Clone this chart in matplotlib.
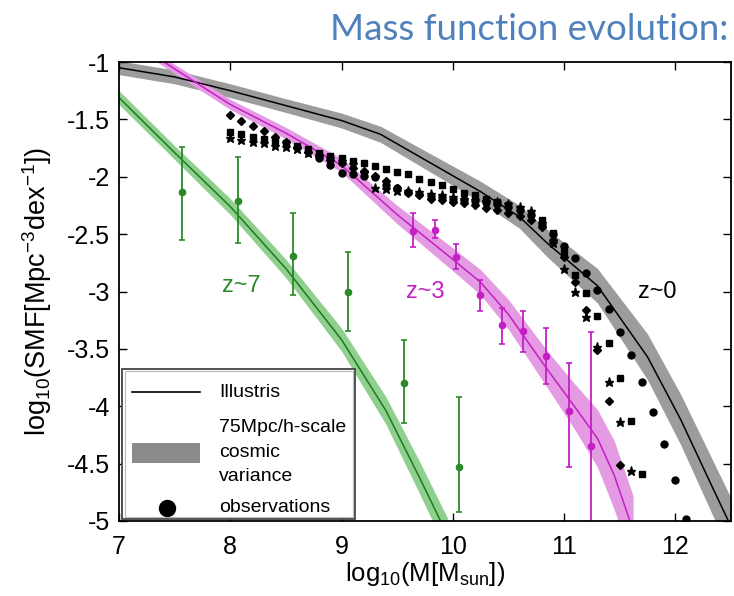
import matplotlib
matplotlib.use('Agg')
from matplotlib import pyplot as plt
from matplotlib.lines import Line2D
from matplotlib.patches import Rectangle
import numpy as np

plt.rcParams['font.family'] = ['Liberation Sans', 'DejaVu Sans']
plt.rcParams['mathtext.default'] = 'regular'
plt.rcParams['axes.unicode_minus'] = False

# Illustris stellar mass functions (log10 M, log10 SMF) and cosmic variance half-widths
z0_x = [7.0, 7.5, 8.0, 8.5, 9.0, 9.35, 9.8, 10.25, 10.6, 10.85, 11.3, 11.75, 12.05, 12.33, 12.55]
z0_y = [-1.05, -1.13, -1.25, -1.38, -1.51, -1.63, -1.88, -2.13, -2.35, -2.58, -2.95, -3.57, -4.12, -4.70, -5.15]
z0_w = [0.06, 0.06, 0.06, 0.06, 0.065, 0.07, 0.08, 0.09, 0.1, 0.12, 0.15, 0.2, 0.22, 0.24, 0.25]

z3_x = [7.2, 7.5, 8.0, 8.5, 9.0, 9.5, 10.0, 10.25, 10.5, 10.85, 11.1, 11.3, 11.45, 11.62]
z3_y = [-0.87, -1.06, -1.37, -1.62, -1.90, -2.33, -2.72, -2.92, -3.20, -3.68, -4.01, -4.28, -4.60, -5.08]
z3_w = [0.04, 0.04, 0.045, 0.05, 0.06, 0.08, 0.1, 0.11, 0.13, 0.16, 0.2, 0.25, 0.3, 0.3]

z7_x = [7.0, 7.5, 8.0, 8.5, 9.0, 9.4, 9.7, 9.95]
z7_y = [-1.31, -1.79, -2.26, -2.80, -3.42, -4.04, -4.62, -5.12]
z7_w = [0.06, 0.06, 0.07, 0.08, 0.1, 0.12, 0.14, 0.15]

# observations at z~7 and z~3 with asymmetric errors
obs7_x = [7.57, 8.07, 8.56, 9.06, 9.56, 10.06]
obs7_y = [-2.13, -2.21, -2.69, -3.00, -3.80, -4.53]
obs7_lo = [-2.55, -2.58, -3.03, -3.34, -4.15, -4.92]
obs7_hi = [-1.74, -1.83, -2.32, -2.66, -3.42, -3.92]

obs3_x = [9.64, 9.84, 10.03, 10.24, 10.44, 10.63, 10.84, 11.04, 11.24]
obs3_y = [-2.47, -2.46, -2.70, -3.03, -3.29, -3.34, -3.56, -4.04, -4.35]
obs3_lo = [-2.61, -2.53, -2.80, -3.17, -3.46, -3.53, -3.81, -4.53, -5.40]
obs3_hi = [-2.32, -2.38, -2.59, -2.90, -3.14, -3.17, -3.32, -3.62, -3.35]

# z~0 observations, four surveys
diam_x = np.round(np.arange(8.0, 11.51, 0.1), 2)
diam_y = [-1.46, -1.51, -1.56, -1.60, -1.65, -1.70, -1.74, -1.78, -1.82, -1.85,
          -1.88, -1.92, -1.95, -1.99, -2.04, -2.10, -2.14, -2.16, -2.19, -2.20,
          -2.22, -2.23, -2.25, -2.27, -2.29, -2.32, -2.34, -2.38, -2.44, -2.55,
          -2.70, -2.92, -3.16, -3.51, -3.95, -4.51]
sq_x = np.round(np.arange(8.0, 11.71, 0.1), 2)
sq_y = [-1.61, -1.63, -1.65, -1.67, -1.69, -1.71, -1.73, -1.76, -1.79, -1.82,
        -1.84, -1.86, -1.88, -1.91, -1.93, -1.96, -1.98, -2.02, -2.05, -2.07,
        -2.11, -2.14, -2.16, -2.19, -2.22, -2.25, -2.28, -2.32, -2.38, -2.49,
        -2.66, -2.86, -3.01, -3.21, -3.45, -3.75, -4.13, -4.59]
star_x = np.round(np.arange(8.0, 11.61, 0.1), 2)
star_y = [-1.66, -1.68, -1.70, -1.71, -1.73, -1.74, -1.76, -1.79, -1.81, -1.84,
          -1.86, -1.89, -1.97, -2.10, -2.11, -2.12, -2.12, -2.13, -2.15, -2.16,
          -2.18, -2.19, -2.20, -2.21, -2.22, -2.24, -2.26, -2.30, -2.40, -2.58,
          -2.80, -3.00, -3.22, -3.48, -3.79, -4.14, -4.56]
circ_x = np.round(np.arange(8.8, 12.11, 0.1), 2)
circ_y = [-1.84, -1.90, -1.97, -1.98, -1.99, -2.00, -2.07, -2.10, -2.13, -2.15,
          -2.17, -2.18, -2.19, -2.20, -2.21, -2.22, -2.24, -2.26, -2.29, -2.33,
          -2.42, -2.50, -2.60, -2.71, -2.84, -2.99, -3.15, -3.35, -3.55, -3.79,
          -4.05, -4.33, -4.64, -4.98]

legend_labels = ['Illustris', '75Mpc/h-scale\ncosmic\nvariance', 'observations']

green = '#2a8a2a'
green_band = '#8fd08f'
magenta = '#c41fc4'
magenta_band = '#e49be4'
gray_band = '#9c9c9c'

fig = plt.figure(figsize=(7.34, 5.96), dpi=100)
ax = fig.add_axes([119 / 734, 1 - 521 / 596, 612 / 734, 459 / 596])


def draw_sim(x, y, w, line_color, band_color):
    x = np.array(x)
    y = np.array(y)
    w = np.array(w)
    ax.fill_between(x, y - w, y + w, color=band_color, lw=0, zorder=1)
    ax.plot(x, y, color=line_color, lw=1.1, zorder=2)


draw_sim(z0_x, z0_y, z0_w, 'black', gray_band)
draw_sim(z3_x, z3_y, z3_w, magenta, magenta_band)
draw_sim(z7_x, z7_y, z7_w, '#1f7a1f', green_band)

ax.plot(diam_x, diam_y, 'D', color='black', ms=4, ls='none', zorder=3)
ax.plot(sq_x, sq_y, 's', color='black', ms=4, ls='none', zorder=3)
ax.plot(star_x, star_y, '*', color='black', ms=6.5, ls='none', zorder=3)
ax.plot(circ_x, circ_y, 'o', color='black', ms=5, ls='none', zorder=3)

for xs, ys, lo, hi, c in [(obs7_x, obs7_y, obs7_lo, obs7_hi, green),
                          (obs3_x, obs3_y, obs3_lo, obs3_hi, magenta)]:
    ys = np.array(ys)
    yerr = [ys - np.array(lo), np.array(hi) - ys]
    ax.errorbar(xs, ys, yerr=yerr, fmt='o', color=c, ms=4.5, lw=1.3,
                capsize=2.5, capthick=1.2, zorder=4)

ax.text(8.1, -2.95, 'z~7', color=green, fontsize=17, ha='center', va='center')
ax.text(9.75, -3.0, 'z~3', color=magenta, fontsize=17, ha='center', va='center')
ax.text(11.84, -3.0, 'z~0', color='black', fontsize=17, ha='center', va='center')

ax.set_xlim(7, 12.5)
ax.set_ylim(-5, -1)
ax.set_xticks([7, 8, 9, 10, 11, 12])
ax.set_yticks([-1, -1.5, -2, -2.5, -3, -3.5, -4, -4.5, -5])
ax.set_yticklabels(['-1', '-1.5', '-2', '-2.5', '-3', '-3.5', '-4', '-4.5', '-5'])
ax.tick_params(direction='in', top=True, right=True, length=6, width=1,
               labelsize=18)
ax.tick_params(axis='x', pad=10)
ax.tick_params(axis='y', pad=6.5)
for s in ax.spines.values():
    s.set_linewidth(1.3)
    s.set_zorder(6)

ax.set_xlabel('log$_{10}$(M[M$_{sun}$])', fontsize=18.5, labelpad=1)
ax.set_ylabel('log$_{10}$(SMF[Mpc$^{-3}$dex$^{-1}$])', fontsize=19.5, labelpad=9)

# legend box in the lower left corner, laid out in axes fractions
tr = ax.transAxes
ax.add_patch(Rectangle((0.005, 0.004), 0.381, 0.327, transform=tr,
                       facecolor='white', edgecolor='#444444', lw=1.3, zorder=5))
ax.add_patch(Rectangle((0.009, 0.009), 0.373, 0.318, transform=tr,
                       facecolor='none', edgecolor='#bbbbbb', lw=0.8, zorder=5))
ax.add_line(Line2D([0.021, 0.132], [0.281, 0.281], transform=tr,
                   color='black', lw=1.2, zorder=6))
ax.add_patch(Rectangle((0.021, 0.126), 0.111, 0.045, transform=tr,
                       facecolor='#8a8a8a', edgecolor='none', zorder=6))
ax.add_line(Line2D([0.078], [0.029], transform=tr, marker='o', ms=11.5,
                   color='black', ls='none', zorder=6))
text_y = [0.281, 0.150, 0.030]
for lab, ty in zip(legend_labels, text_y):
    t = ax.text(0.163, ty, lab, transform=tr, fontsize=14, ha='left',
                va='center', zorder=7)
    t.set_linespacing(1.55)

fig.text(0.992, 1 - 30 / 596, 'Mass function evolution:', ha='right', va='center',
         color='#4f81bd', fontsize=26.5, family='Lato')

fig.savefig('out.png', dpi=100)
